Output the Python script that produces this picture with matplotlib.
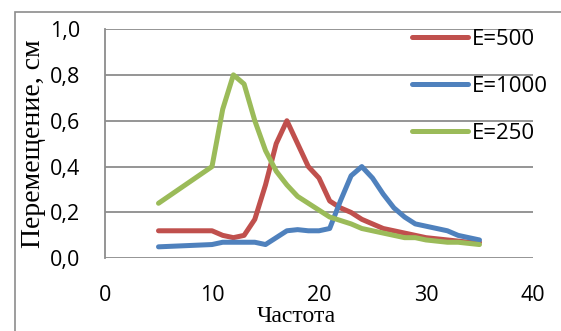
import matplotlib.pyplot as plt
import matplotlib.patches as patches

freq = [5, 10, 11, 12, 13, 14, 15, 16, 17, 18, 19, 20, 21, 22, 23, 24,
        25, 26, 27, 28, 29, 30, 31, 32, 33, 34, 35]
e500 = [0.12, 0.12, 0.10, 0.09, 0.10, 0.17, 0.32, 0.50, 0.60, 0.50, 0.40, 0.35,
        0.25, 0.22, 0.20, 0.17, 0.15, 0.13, 0.12, 0.11, 0.10, 0.09, 0.085,
        0.08, 0.075, 0.07, 0.07]
e1000 = [0.05, 0.06, 0.07, 0.07, 0.07, 0.07, 0.06, 0.09, 0.12, 0.125, 0.12, 0.12,
         0.13, 0.25, 0.36, 0.40, 0.35, 0.28, 0.22, 0.18, 0.15, 0.14, 0.13,
         0.12, 0.10, 0.09, 0.08]
e250 = [0.24, 0.40, 0.65, 0.80, 0.76, 0.60, 0.47, 0.38, 0.32, 0.27, 0.24, 0.21,
        0.18, 0.165, 0.15, 0.13, 0.12, 0.11, 0.10, 0.09, 0.09, 0.08, 0.075,
        0.07, 0.07, 0.065, 0.06]
yticks = [0.0, 0.2, 0.4, 0.6, 0.8, 1.0]
ytick_labels = ['0,0', '0,2', '0,4', '0,6', '0,8', '1,0']
xticks = [0, 10, 20, 30, 40]

fig = plt.figure(figsize=(5.61, 3.31), dpi=100)
# outer chart border
fig.patches.append(patches.Rectangle((15 / 561, -0.1), 1.2, 1 - 12 / 331 + 0.1,
                                     transform=fig.transFigure, fill=False,
                                     edgecolor='#8c8c8c', linewidth=1.2))
ax = fig.add_axes([105 / 561, 1 - 258.3 / 331, 428 / 561, 229.3 / 331])

ax.plot(freq, e500, color='#C0504D', lw=3.6, label='E=500', solid_capstyle='round')
ax.plot(freq, e1000, color='#4F81BD', lw=3.6, label='E=1000', solid_capstyle='round')
ax.plot(freq, e250, color='#9BBB59', lw=3.6, label='E=250', solid_capstyle='round')

ax.set_xlim(0, 40)
ax.set_ylim(0, 1)
ax.set_yticks(yticks)
ax.set_yticklabels(ytick_labels)
ax.set_xticks(xticks)
ax.yaxis.grid(True, color='#8c8c8c', lw=1.3)
ax.set_axisbelow(True)
for s in ['top', 'right', 'bottom']:
    ax.spines[s].set_visible(False)
ax.spines['left'].set_color('#8c8c8c')
ax.spines['left'].set_linewidth(1.3)
ax.tick_params(length=0, labelsize=15.5)
ax.tick_params(axis='y', pad=18)
ax.tick_params(axis='x', pad=19)
for lab in ax.get_xticklabels() + ax.get_yticklabels():
    lab.set_fontfamily('Open Sans')

ax.set_ylabel('Перемещение, см', family='Liberation Serif', fontsize=20)
ax.yaxis.set_label_coords(-0.137, 0.5)
ax.set_xlabel('Частота', family='Liberation Serif', fontsize=17)
ax.xaxis.set_label_coords(0.447, -0.21)

leg = fig.legend(loc='upper left', bbox_to_anchor=(412 / 561, 1 - 29 / 331),
                 frameon=False, prop={'family': 'Open Sans', 'size': 16},
                 handlelength=2.5, handletextpad=0.2, labelspacing=1.17,
                 borderaxespad=0, borderpad=0)

fig.savefig('out.png', dpi=100)
